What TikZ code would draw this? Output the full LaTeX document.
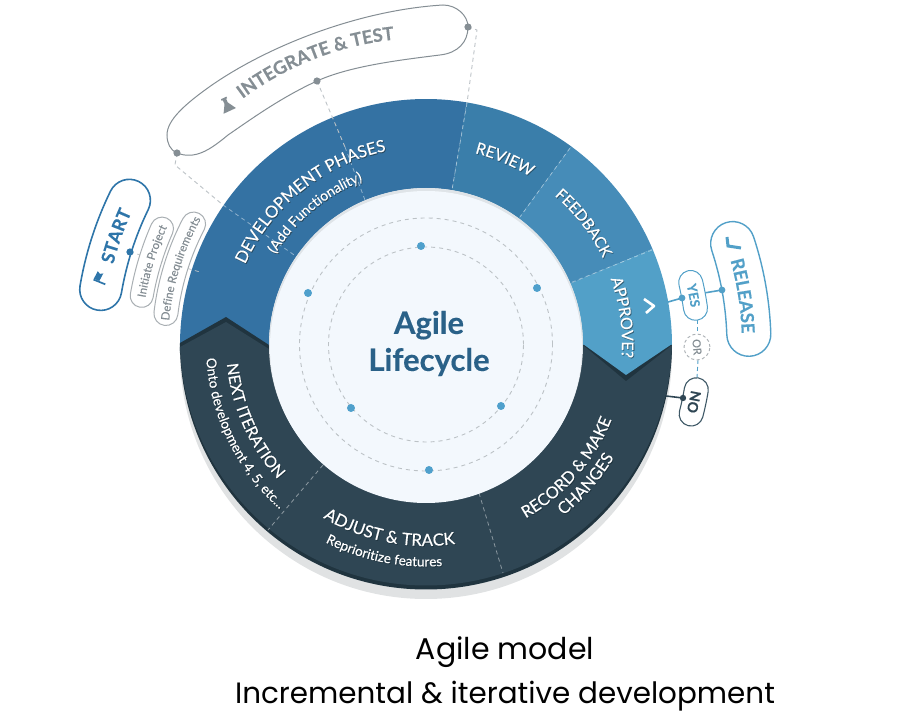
\documentclass[tikz,border=0pt]{standalone}
\usepackage{fontspec}
\setmainfont[FakeBold=0.3,BoldFont={Lato Bold}]{Lato}
\newfontfamily\capfont{Poppins}
\usetikzlibrary{decorations.text}
\definecolor{cdev}{HTML}{3472A3}
\definecolor{crev}{HTML}{3A7EAA}
\definecolor{cfee}{HTML}{468CB8}
\definecolor{capp}{HTML}{52A0C8}
\definecolor{cdark}{HTML}{2F4654}
\definecolor{crim}{HTML}{20343F}
\definecolor{cshade}{HTML}{E0E2E3}
\definecolor{cinner}{HTML}{F3F8FD}
\definecolor{cinedge}{HTML}{DFE4E8}
\definecolor{cdot}{HTML}{4FA0CC}
\definecolor{cgrey}{HTML}{858E94}
\definecolor{cpale}{HTML}{A9AFB3}
\definecolor{cdash}{HTML}{BCC2C6}
\definecolor{ctitle}{HTML}{2A6188}
\definecolor{cstart}{HTML}{2E75A9}
\definecolor{cnear}{HTML}{3E5866}
\newcommand\fs[1]{\fontsize{#1}{#1}\selectfont}
% radius, centre angle, half span (sign gives direction), format, text
\newcommand\arctext[5]{%
  \path[decorate,decoration={text along path,text align=center,text={|#4|#5}}]
    ({#2+#3}:#1pt) arc[start angle={#2+#3},end angle={#2-#3},radius=#1pt];}
\newcommand\ringtext[6]{% radius, centre, half span, shadow colour, size, text
  \begin{scope}[shift={(0.8pt,-0.9pt)}]\arctext{#1}{#2}{#3}{\fs{#5}\color{#4}}{#6}\end{scope}
  \arctext{#1}{#2}{#3}{\fs{#5}\color{white}}{#6}}
\newcommand\sector[3]{\fill[#1] (#2:246pt) arc[start angle=#2,end angle=#3,radius=246pt]
   -- (#3:157pt) arc[start angle=#3,end angle=#2,radius=157pt] -- cycle;}
% style, inner r, outer r, start angle, end angle (start > end)
\newcommand\capsule[5]{\draw[#1] (#4:#3pt) arc[start angle=#4,end angle=#5,radius=#3pt]
   arc[start angle=#5,delta angle=-180,radius={(#3-#2)/2}]
   arc[start angle=#5,end angle=#4,radius=#2pt]
   arc[start angle={#4+180},delta angle=-180,radius={(#3-#2)/2}] -- cycle;}
\tikzset{
  x=1pt,y=1pt,
  px/.style={shift={(-426pt,345pt)},x=1pt,y=-1pt},
  ringdash/.style={white,opacity=.45,line width=.8pt,dash pattern=on 4pt off 3.5pt},
  outdash/.style={cdash,line width=.9pt,dash pattern=on 4pt off 3.5pt},
  orbit/.style={cdash,line width=.9pt,dash pattern=on 4pt off 4pt},
  orbitdot/.style={fill=cdot,draw=none},
  pilldot/.style={fill=cgrey,draw=none},
  mainpill/.style={draw=cgrey,fill=white,line width=1pt},
  smallpill/.style={draw=cpale,fill=white,line width=1pt},
}
\begin{document}
\begin{tikzpicture}
\useasboundingbox (-426,-375) rectangle (480,345);
% base discs
\fill[cshade] (0,-8) circle[radius=246pt];
\begin{scope}
  \clip (-260,0) rectangle (260,-260);
  \fill[crim] (0,1.5) circle[radius=246pt];
\end{scope}
% sectors
\sector{cdev}{80.5}{180}
\sector{crev}{53.8}{80.5}
\sector{cfee}{23}{53.8}
\sector{capp}{0}{23}
\begin{scope}
  \clip (0,5.5) circle[radius=246pt];
  \sector{cdark}{180}{360}
\end{scope}
% chevrons
\fill[crim] (-246,2) -- (-200,28) -- (-157,0) -- (-157,-6) -- (-246,-6) -- cycle;
\fill[cdark] (-246,-2) -- (-200,23) -- (-157,-4) -- (-157,-8) -- (-246,-8) -- cycle;
\fill[crim] (246,0) -- (200,-36) -- (157,0) -- cycle;
\fill[capp] (246,1) -- (200,-30) -- (157,1) -- cycle;
% inner disc
\fill[cinedge] (0,0) circle[radius=157pt];
\fill[cinner] (0,-2) circle[radius=156pt];
\draw[orbit] (0,0.5) circle[radius=97.5pt];
\draw[orbit] (0,0.5) circle[radius=126.5pt];
\begin{scope}[px]
  \foreach \p in {(421,246),(537,288),(501,406),(429,470),(351,408),(308,293)}
    \fill[orbitdot] \p circle[radius=4pt];
\end{scope}
% named points and lines under the callouts
\begin{scope}[px]
  \coordinate (itR) at (468,27);
  \coordinate (itM) at (317,81);
  \coordinate (itL) at (177,153);
  \coordinate (stD) at (130,252);
  \coordinate (relD) at (722,290);
  \coordinate (yesD) at (682,298);
  \coordinate (noD) at (683,398);
  \coordinate (yesEdge) at (668,302);
  \coordinate (noEdge) at (666,396);
  \coordinate (yesR) at (704,293);
  \draw[outdash] (itR) -- (477,30) -- (467,103);
  \draw[outdash] (itM) -- (345,147);
  \draw[outdash] (itL) -- (175,165) -- (223,205);
  \draw[outdash,line width=.7pt] (stD) -- (200,272);
  \draw[ringdash] (467,103) -- (452,190);
  \draw[ringdash] (345,147) -- (365,200);
  \draw[ringdash] (223,205) -- (297,257);
  \draw[ringdash] (570,148) -- (520,217);
  \draw[ringdash] (652,250) -- (570,283);
  \draw[ringdash] (323,465) -- (268,530);
  \draw[ringdash] (479,493) -- (503,573);
  % integrate pill
  \draw[mainpill] (177,153) .. controls (170,150) and (167,143) .. (167,135)
    .. controls (167,120) and (185,104) .. (212,85)
    .. controls (270,45) and (360,10) .. (443,5)
    .. controls (456,5) and (468,15) .. (468,27)
    .. controls (468,42) and (458,53) .. (440,55)
    .. controls (400,60) and (350,66) .. (317,81)
    .. controls (280,98) and (250,120) .. (228,135)
    .. controls (210,150) and (195,160) .. (177,153) -- cycle;
  \fill[pilldot] (itR) circle[radius=3.6pt];
  \fill[pilldot] (itM) circle[radius=3.6pt];
  \fill[pilldot] (itL) circle[radius=3.6pt];
  % approve connectors
  \draw[capp,line width=1.6pt] (yesEdge) -- (yesD);
  \draw[capp,line width=1.6pt] (yesR) -- (relD);
  \draw[cdark,line width=1.6pt] (noEdge) -- (noD);
  \draw[capp,line width=.9pt,dash pattern=on 4pt off 3pt] (697,320) -- (697,334);
  \draw[capp,line width=.9pt,dash pattern=on 4pt off 3pt] (698,360) -- (697,378);
\end{scope}
% capsules
\capsule{smallpill}{277}{300}{170.2}{156.2}
\capsule{smallpill}{250}{274}{173.1}{152.5}
\capsule{cstart,fill=white,line width=1.6pt}{309}{351}{170.3}{154}
\capsule{capp,fill=white,line width=1.4pt}{301}{345}{18.3}{1.9}
\capsule{capp,fill=white,line width=1pt}{260}{284}{13.3}{7.75}
\capsule{cnear,fill=white,line width=1.1pt}{262}{286}{-9.4}{-14.6}
\begin{scope}[px]
  \fill[cstart] (stD) circle[radius=3.6pt];
  \draw[cpale,fill=white,line width=.9pt,dash pattern=on 3pt off 2.5pt] (697,347) circle[radius=13pt];
  \fill[capp] (relD) circle[radius=3.4pt];
  \fill[capp] (yesD) circle[radius=3.4pt];
  \fill[cdark] (noD) circle[radius=3.2pt];
  \node[rotate=-85,font=\fs{11},text=cgrey,inner sep=0pt] (orlabel) at (697,347) {OR};
  \draw[white,line width=2.6pt,line join=round] (644,299) -- (654,306) -- (646,313);
  \draw[capp,line width=3pt] (727,237) -- (728,246) -- (741,248);
\end{scope}
% flask
\begin{scope}[shift={(-199,240)},rotate=25]
  \fill[cgrey] (-1.8,7) -- (1.8,7) -- (1.8,2) -- (6.8,-6.5) -- (-6.8,-6.5) -- (-1.8,2) -- cycle;
  \fill[cgrey] (-3,6) rectangle (3,7.8);
\end{scope}
% flag
\begin{scope}[shift={(-325,67),},rotate=68,scale=.85]
  \fill[cstart] (-6,-7.5) rectangle (-4,7.5);
  \fill[cstart] (-4,7.5) -- (6,6.5) -- (4,3) -- (6,-0.5) -- (-4,0.5) -- cycle;
\end{scope}
% ring labels
\ringtext{198}{128.8}{40}{crim!70!cdev}{16.6}{DEVELOPMENT PHASES}
\ringtext{176}{130}{32}{crim!70!cdev}{14}{(Add Functionality)}
\ringtext{198}{67}{20}{crim!60!crev}{16}{REVIEW}
\ringtext{197}{37.7}{25}{crim!60!cfee}{15.5}{FEEDBACK}
\ringtext{196}{8}{22}{crim!60!capp}{16}{APPROVE?}
\ringtext{200}{203.8}{-32}{crim}{16}{NEXT ITERATION}
\ringtext{220}{205.9}{-32}{crim}{13.5}{Onto development 4, 5, etc...}
\ringtext{201}{258.8}{-32}{crim}{16.8}{ADJUST {\&} TRACK}
\ringtext{221.5}{258.6}{-28}{crim}{13.5}{Reprioritize features}
\ringtext{200}{319}{-32}{crim}{16.4}{RECORD {\&} MAKE}
\ringtext{219}{319}{-22}{crim}{16.4}{CHANGES}
% callout labels
\arctext{307}{111.3}{24}{\fs{18.3}\bfseries\color{cgrey}}{INTEGRATE {\&} TEST}
\arctext{323}{160.6}{12}{\fs{18}\bfseries\color{cstart}}{START}
\arctext{284.5}{163}{14}{\fs{11.5}\color{cgrey}}{Initiate Project}
\arctext{258}{162.7}{20}{\fs{11.5}\color{cgrey}}{Define Requirements}
\arctext{316}{8.8}{12}{\fs{18}\bfseries\color{capp}}{RELEASE}
\arctext{267.5}{10.5}{6}{\fs{13}\bfseries\color{capp}}{YES}
\arctext{269}{-12}{6}{\fs{14}\bfseries\color{cdark}}{NO}
% centre title
\node[font=\fs{31}\bfseries,text=ctitle,align=center,inner sep=0pt] (title) at (3,1.5) {Agile\\[6pt]Lifecycle};
% caption
\node[font=\capfont\fs{30},text=black,anchor=base,inner sep=0pt] (cap1) at (79,-314) {Agile model};
\node[font=\capfont\fs{29.4},text=black,anchor=base,inner sep=0pt] (cap2) at (79,-358) {Incremental \& iterative development};
\end{tikzpicture}
\end{document}
